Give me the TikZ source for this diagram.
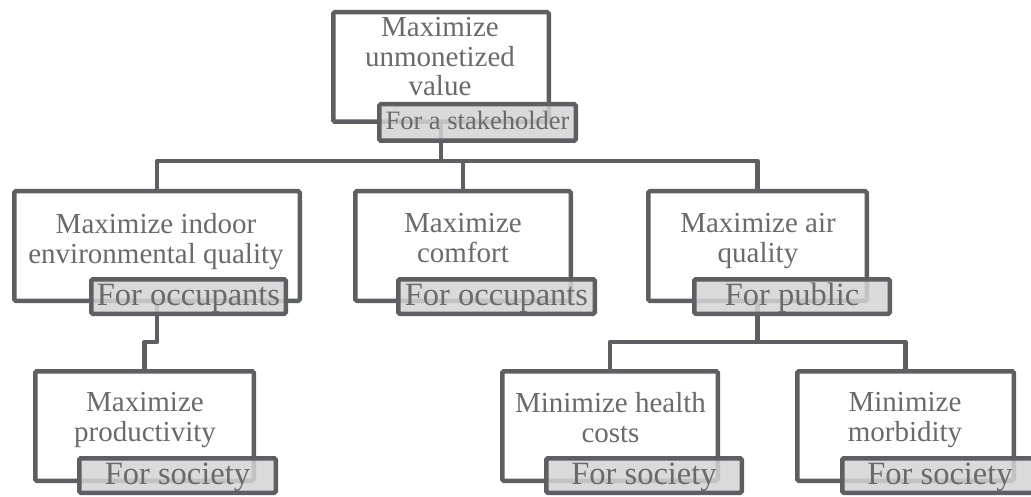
\documentclass[tikz,border=0pt]{standalone}
\usepackage{fontspec}
\setmainfont{Liberation Serif}
\definecolor{edge}{HTML}{5E5F63}
\definecolor{ink}{HTML}{6A6A6A}
\definecolor{tag}{HTML}{D4D4D4}
\pgfdeclarelayer{wires}
\pgfdeclarelayer{tags}
\pgfsetlayers{wires,main,tags}
\tikzset{
  conn/.style={draw=edge, line width=4.5pt, line join=round},
  goalbox/.style={draw=edge, fill=white, line width=4.5pt, rounded corners=1.5pt,
    inner sep=0pt, minimum height=109.5pt},
  goaltext/.style={anchor=north, inner sep=0pt, align=center, text=ink,
    font=\fontsize{29}{29.5}\selectfont},
  tagbox/.style={draw=edge, fill=tag, fill opacity=0.85, draw opacity=1, text opacity=1,
    line width=4.5pt, rounded corners=1.5pt, inner sep=0pt, minimum height=34.5pt,
    text=ink, font=\fontsize{32.5}{34}\selectfont, text height=24pt, text depth=6pt},
}
\begin{document}
\begin{tikzpicture}[x=1pt,y=-1pt]
\useasboundingbox (0,0) rectangle (1031,497);

% levels of the connector bars
\coordinate (h1) at (0,161);
\coordinate (h2) at (0,342);

% goal boxes
\node[goalbox, minimum width=215.5pt] (b0) at (441,67) {};
\node[goalbox, minimum width=285.5pt] (b1) at (157,246) {};
\node[goalbox, minimum width=215.5pt] (b2) at (463,246) {};
\node[goalbox, minimum width=218.5pt] (b3) at (757.5,246) {};
\node[goalbox, minimum width=218.5pt] (b4) at (144.5,426) {};
\node[goalbox, minimum width=215.5pt] (b5) at (610,426) {};
\node[goalbox, minimum width=216.5pt] (b6) at (905.5,426) {};

% goal texts
\node[goaltext] (t0) at (440,17.5) {Maximize\\unmonetized\\value};
\node[goaltext] (t1) at (156,213.5) {Maximize indoor\\environmental quality};
\node[goaltext] (t2) at (463,213.5) {Maximize\\comfort};
\node[goaltext] (t3) at (758,213.5) {Maximize air\\quality};
\node[goaltext] (t4) at (145,392.5) {Maximize\\productivity};
\node[goaltext] (t5) at (610.5,392.5) {Minimize health\\costs};
\node[goaltext] (t6) at (905,392.5) {Minimize\\morbidity};

% stakeholder tags
\begin{pgfonlayer}{tags}
\node[tagbox, minimum width=196.5pt, minimum height=36.5pt,
      font=\fontsize{26.5}{28}\selectfont, text height=19.5pt, text depth=5.5pt]
      (l0) at (477.5,122.5) {For a stakeholder};
\node[tagbox, minimum width=194.5pt] (l1) at (188.5,296.5) {For occupants};
\node[tagbox, minimum width=196.5pt] (l2) at (496.5,296.5) {For occupants};
\node[tagbox, minimum width=195.5pt] (l3) at (792,296.5) {For public};
\node[tagbox, minimum width=196.5pt] (l4) at (177.5,475.5) {For society};
\node[tagbox, minimum width=195.5pt] (l5) at (644,475.5) {For society};
\node[tagbox, minimum width=195.5pt] (l6) at (940,475.5) {For society};
\end{pgfonlayer}

% connectors, behind the boxes
\begin{pgfonlayer}{wires}
\draw[conn] (b0.center) -- (b0.center |- h1);
\draw[conn] (b1.center) |- (b3.center |- h1) -- (b3.center);
\draw[conn] (b2.center) -- (b2.center |- h1);
\draw[conn] (b1.center) |- (b4.center |- h2) -- (b4.center);
\draw[conn] (b3.center) -- (b3.center |- h2);
\draw[conn] (b5.center) |- (b6.center |- h2) -- (b6.center);
\end{pgfonlayer}
\end{tikzpicture}
\end{document}
